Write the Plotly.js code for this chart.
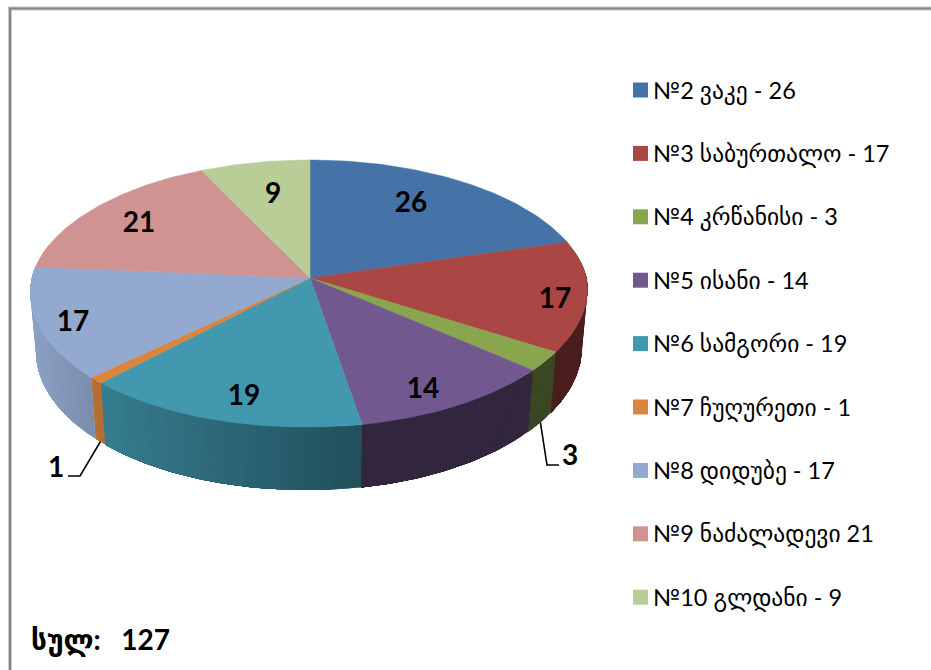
<!DOCTYPE html>
<html>
<head>
<meta charset="utf-8">
<script src="https://cdn.plot.ly/plotly-3.0.1.min.js"></script>
<style>html,body{margin:0;padding:0;background:#fff;overflow:hidden}#chart{width:931px;height:670px}</style>
</head>
<body>
<div id="chart"></div>
<script>
// ---- data ----
const categories = ["№2 ვაკე", "№3 საბურთალო", "№4 კრწანისი", "№5 ისანი", "№6 სამგორი", "№7 ჩუღურეთი", "№8 დიდუბე", "№9 ნაძალადევი", "№10 გლდანი"];
const values = [26, 17, 3, 14, 19, 1, 17, 21, 9];
const separators = [" - ", " - ", " - ", " - ", " - ", " - ", " - ", " ", " - "];
const colors = ["#4572A7", "#AA4643", "#89A54E", "#71588F", "#4198AF", "#DB843D", "#93A9CF", "#D19392", "#B9CD96"];
const totalLabel = "სულ:\u00A0\u00A0\u00A0127";

// ---- layout of the labels (pixel axes) ----
const labelX = [411, 555, null, 423, 244, null, 73, 139, 273];
const labelY = [205, 301, null, 391, 398, null, 324, 225, 196];
const FONT = "Lato, 'DejaVu Sans', sans-serif";

// perspective disc
const CX = 310, CY = 278, A = 278.1, B = 131.7, K = 0.1161;
function rimTop(theta) {
  const u = Math.sin(theta), v = Math.cos(theta), w = 1 + K * v;
  let x = CX + A * u / w, y = CY - B * v / w;
  if (u > 0) { x -= 1.5 * u; if (v < 0) x += 10 * u * v; }
  if (u < 0 && v < 0) { x += 3 * u * v; y += 3 * u * v; }
  return [x, y];
}
function rimBottom(theta) {
  const p = rimTop(theta), v = Math.cos(theta);
  return [CX + (p[0] - CX) * 0.98, p[1] + 58 - 5 * v];
}
function shade(x) {
  if (x > 362) return 0.43;
  if (x < 100) return 0.95 - (x - 30) * (0.13 / 70);
  return 0.82 - (x - 100) * (0.30 / 260);
}
function mix(hex, f) {
  const n = parseInt(hex.slice(1), 16);
  return "rgb(" + [(n >> 16) & 255, (n >> 8) & 255, n & 255].map(c => Math.round(c * f)).join(",") + ")";
}

const total = values.reduce((a, b) => a + b, 0);
const traces = [];
const DEG = Math.PI / 180;
let acc = 0;
const spans = values.map(v => { const s = [acc, acc + v]; acc += v; return s.map(t => t / total * 2 * Math.PI); });

function wallPath(t0, t1, steps) {
  const xs = [], ys = [];
  for (let j = 0; j <= steps; j++) { const p = rimTop(t0 + (t1 - t0) * j / steps); xs.push(p[0]); ys.push(p[1]); }
  for (let j = steps; j >= 0; j--) { const p = rimBottom(t0 + (t1 - t0) * j / steps); xs.push(p[0]); ys.push(p[1]); }
  xs.push(xs[0]); ys.push(ys[0]);
  return { xs, ys };
}

// walls: each strip is extended past its neighbour so no seam shows through
spans.forEach((s, i) => {
  const a0 = Math.max(s[0], 70 * DEG), a1 = Math.min(s[1], 285 * DEG);
  if (a1 <= a0) return;
  const n = Math.max(1, Math.ceil((a1 - a0) / (2 * DEG)));
  for (let k = 0; k < n; k++) {
    const t0 = a0 + (a1 - a0) * k / n, t1 = a1;
    const g = wallPath(t0, t1, Math.max(3, (n - k) * 3));
    const col = mix(colors[i], shade(rimTop(t0 + (a1 - a0) * 0.5 / n)[0]));
    traces.push({ type: "scatter", mode: "lines", x: g.xs, y: g.ys, fill: "toself", fillcolor: col,
      line: { color: col, width: 0 }, hoverinfo: "skip", showlegend: false });
  }
});

// top face
spans.forEach((s, i) => {
  const xs = [CX], ys = [CY];
  const n = Math.max(4, Math.ceil((s[1] - s[0]) / DEG));
  for (let k = 0; k <= n; k++) { const p = rimTop(s[0] + (s[1] - s[0]) * k / n); xs.push(p[0]); ys.push(p[1]); }
  xs.push(CX); ys.push(CY);
  traces.push({ type: "scatter", mode: "lines", x: xs, y: ys, fill: "toself", fillcolor: colors[i],
    line: { color: colors[i], width: 0.5 }, name: categories[i], hoverinfo: "name", showlegend: false });
});

// value labels inside the disc
traces.push({ type: "scatter", mode: "text",
  x: labelX, y: labelY, text: values.map(String), textposition: "middle center",
  textfont: { family: FONT, size: 28, color: "#000", weight: 700 }, hoverinfo: "skip", showlegend: false });

// leader lines of the two small slices
function leader(i, bendX, bendY, endX) {
  const mid = (spans[i][0] + spans[i][1]) / 2, p = rimBottom(mid);
  traces.push({ type: "scatter", mode: "lines", x: [p[0], bendX, endX], y: [p[1], bendY, bendY],
    line: { color: "#000", width: 1.6 }, hoverinfo: "skip", showlegend: false });
}
leader(2, 547, 465, 559);
leader(5, 80, 476, 68);
traces.push({ type: "scatter", mode: "text", x: [570, 56], y: [458, 470], text: [String(values[2]), String(values[5])],
  textposition: "middle center", textfont: { family: FONT, size: 28, color: "#000", weight: 700 },
  hoverinfo: "skip", showlegend: false });

// legend
const legY = categories.map((c, i) => 90 + i * 63.4);
traces.push({ type: "scatter", mode: "markers", x: categories.map(() => 640.5), y: legY,
  marker: { symbol: "square", size: 15, color: colors, line: { width: 0 } }, hoverinfo: "skip", showlegend: false });

const annotations = categories.map((c, i) => ({
  xref: "x", yref: "y", x: 651, y: legY[i], xanchor: "left", yanchor: "middle", showarrow: false,
  text: c + separators[i] + values[i], font: { family: FONT, size: 23.5, color: "#000" }
}));
annotations.push({ xref: "x", yref: "y", x: 29, y: 639, xanchor: "left", yanchor: "middle", showarrow: false,
  text: "<b>" + totalLabel + "</b>", font: { family: FONT, size: 28, color: "#000" } });

const layout = {
  width: 931, height: 670, margin: { l: 0, r: 0, t: 0, b: 0 }, paper_bgcolor: "#fff", plot_bgcolor: "#fff",
  showlegend: false, hovermode: "closest",
  xaxis: { range: [0, 931], visible: false, fixedrange: true },
  yaxis: { range: [670, 0], visible: false, fixedrange: true },
  annotations,
  shapes: [
    { type: "path", path: "M 10 672 L 10 8.5 L 933 8.5", line: { color: "#c8c8c8", width: 4 }, xref: "x", yref: "y", layer: "below" },
    { type: "path", path: "M 10 672 L 10 8.5 L 933 8.5", line: { color: "#868686", width: 2 }, xref: "x", yref: "y", layer: "below" }
  ]
};
Plotly.newPlot("chart", traces, layout, { displayModeBar: false, staticPlot: true });
</script>
</body>
</html>
